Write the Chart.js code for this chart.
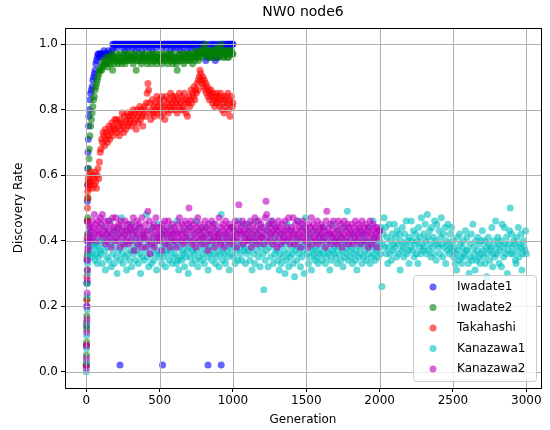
<!DOCTYPE html>
<html>
<head>
<meta charset="utf-8">
<script src="https://cdn.jsdelivr.net/npm/chart.js@4.4.1/dist/chart.umd.min.js"></script>
<style>
html, body { margin: 0; padding: 0; background: #fff; }
#wrap { width: 550px; height: 430px; }
</style>
</head>
<body>
<div id="wrap"><canvas id="chart" width="550" height="430"></canvas></div>
<script>
// generations sampled: dense during the first rise, then every 5
const earlyGens = [0, 1, 2, 3, 4, 5, 6, 7, 8, 9, 10, 12, 14, 16, 18, 20,
    25, 30, 35, 40, 45, 50, 55, 60, 65, 70, 75, 80, 85, 90, 95];
const genStep = 5;

const xTicks = [0, 500, 1000, 1500, 2000, 2500, 3000];
const yTicks = [0.0, 0.2, 0.4, 0.6, 0.8, 1.0];

const seriesNames = ['Iwadate1', 'Iwadate2', 'Takahashi', 'Kanazawa1', 'Kanazawa2'];
const seriesColors = ['0,0,255', '0,128,0', '255,0,0', '0,191,191', '191,0,191'];

// discovery rate in percent, one row = 100 generations
const iwadate1 = [
    2, 8, 14, 20, 27, 34, 40, 46, 52, 57, 62, 67, 71, 75, 78, 80,
    83, 85, 86, 87, 89, 90, 91, 92, 94, 95, 96, 97, 97, 96, 97,
    97, 97, 96, 97, 98, 97, 97, 96, 97, 97, 98, 97, 97, 96, 97, 98, 100, 99, 100, 100,
    100, 100, 99, 100, 100, 100, 2, 100, 100, 100, 99, 100, 100, 98, 100, 100, 100, 99, 100, 100,
    100, 100, 99, 100, 100, 100, 100, 98, 100, 100, 100, 99, 100, 100, 100, 100, 98, 100, 100, 100,
    100, 99, 100, 100, 100, 100, 99, 100, 100, 100, 98, 100, 100, 100, 100, 99, 100, 100, 100, 100,
    100, 100, 100, 99, 2, 100, 100, 100, 100, 99, 100, 100, 100, 100, 100, 98, 100, 100, 100, 99,
    100, 100, 100, 99, 100, 100, 100, 100, 98, 100, 100, 100, 99, 100, 100, 100, 100, 100, 98, 100,
    100, 100, 99, 100, 100, 100, 100, 99, 100, 100, 100, 98, 100, 100, 100, 97, 99, 100, 100, 100,
    100, 97, 100, 95, 99, 96, 2, 100, 97, 96, 100, 98, 96, 100, 99, 100, 95, 96, 100, 98,
    96, 100, 98, 100, 2, 100, 99, 100, 100, 97, 100, 100, 99, 100, 100, 100, 98, 100, 100, 100,
    100
];

const iwadate2 = [
    2, 5, 9, 13, 17, 22, 27, 31, 36, 42, 47, 53, 58, 62, 65, 68,
    72, 75, 77, 79, 81, 83, 84, 86, 87, 88, 89, 90, 91, 92, 92,
    93, 92, 94, 93, 95, 94, 94, 96, 95, 93, 94, 96, 95, 94, 96, 97, 92, 95, 94, 96,
    96, 95, 97, 94, 95, 96, 97, 95, 94, 96, 95, 97, 96, 94, 95, 97, 96, 95, 97, 96,
    95, 96, 97, 95, 94, 96, 97, 96, 92, 95, 95, 96, 97, 96, 95, 94, 97, 96, 95, 96,
    97, 96, 95, 94, 96, 97, 95, 96, 97, 94, 96, 95, 97, 96, 95, 96, 94, 97, 96, 95,
    97, 95, 96, 94, 96, 97, 95, 96, 97, 95, 96, 94, 97, 96, 95, 97, 96, 95, 94, 96,
    97, 96, 95, 94, 92, 95, 96, 97, 95, 96, 97, 95, 96, 94, 97, 96, 95, 97, 96, 95,
    97, 96, 95, 97, 96, 94, 97, 96, 95, 97, 98, 96, 97, 95, 96, 98, 97, 96, 98, 97,
    99, 97, 100, 98, 98, 97, 97, 96, 96, 98, 98, 97, 97, 96, 96, 98, 97, 99, 98, 97,
    96, 97, 99, 98, 100, 97, 97, 96, 96, 98, 98, 97, 97, 96, 96, 98, 97, 98, 98, 97,
    97
];

const takahashi = [
    2, 8, 15, 22, 29, 35, 41, 46, 50, 53, 55, 57, 59, 56, 60, 58,
    57, 61, 58, 56, 60, 59, 57, 61, 58, 56, 60, 62, 59, 64, 67,
    68, 71, 70, 73, 72, 69, 74, 71, 73, 70, 72, 75, 71, 74, 73, 76, 72, 75, 74, 77,
    74, 77, 73, 76, 75, 72, 77, 74, 76, 79, 75, 73, 78, 76, 74, 77, 79, 75, 78, 76,
    77, 79, 75, 78, 80, 76, 79, 77, 74, 80, 78, 76, 79, 81, 77, 80, 78, 75, 79, 81,
    80, 78, 82, 85, 88, 86, 82, 79, 77, 80, 83, 79, 81, 78, 82, 80, 84, 79, 81, 83,
    80, 82, 78, 84, 81, 79, 83, 77, 81, 84, 80, 82, 79, 83, 81, 85, 80, 82, 84, 81,
    83, 80, 84, 82, 79, 83, 81, 85, 82, 80, 84, 81, 83, 80, 85, 82, 79, 83, 78, 82,
    84, 81, 83, 86, 82, 85, 84, 87, 83, 86, 85, 88, 86, 89, 90, 92, 91, 89, 88, 90,
    87, 89, 86, 88, 85, 87, 84, 86, 83, 85, 86, 84, 82, 85, 83, 81, 84, 82, 85, 83,
    82, 84, 81, 85, 83, 80, 84, 82, 79, 83, 81, 84, 82, 85, 80, 83, 78, 82, 84, 81,
    82
];

const kanazawa1 = [
    0, 3, 7, 11, 15, 19, 23, 27, 30, 33, 35, 38, 36, 41, 44, 39,
    37, 42, 35, 39, 36, 41, 38, 34, 39, 36, 33, 38, 35, 40, 37,
    36, 41, 33, 39, 44, 37, 31, 40, 35, 42, 38, 34, 46, 39, 32, 41, 36, 43, 33, 38,
    40, 35, 30, 42, 37, 44, 34, 39, 47, 36, 33, 41, 38, 35, 43, 31, 39, 36, 42, 34,
    45, 37, 32, 40, 36, 43, 38, 34, 41, 37, 39, 33, 44, 36, 30, 40, 35, 42, 38, 34,
    41, 37, 48, 35, 39, 32, 43, 36, 40, 33, 38, 44, 34, 39, 36, 41, 31, 37, 45, 35,
    40, 36, 42, 33, 38, 35, 43, 39, 32, 37, 41, 36, 39, 34, 44, 37, 40, 33, 38, 35,
    42, 36, 39, 33, 46, 34, 31, 38, 35, 40, 34, 37, 43, 36, 32, 39, 35, 41, 37, 30,
    38, 44, 35, 40, 33, 37, 42, 36, 39, 34, 46, 37, 32, 40, 35, 43, 38, 34, 41, 36,
    39, 33, 44, 37, 40, 35, 31, 38, 42, 36, 40, 34, 38, 45, 36, 41, 33, 39, 35, 43,
    37, 32, 40, 36, 48, 38, 34, 41, 36, 39, 33, 42, 37, 35, 40, 31, 38, 44, 36, 39,
    41, 35, 38, 33, 43, 37, 40, 34, 46, 38, 36, 42, 34, 39, 45, 37, 38, 33, 41, 36,
    45, 37, 40, 34, 43, 38, 31, 41, 36, 39, 33, 40, 46, 37, 42, 35, 39, 32, 44, 38,
    41, 36, 25, 39, 34, 43, 37, 40, 32, 45, 38, 42, 35, 46, 39, 33, 41, 36, 44, 37,
    40, 34, 38, 31, 36, 42, 33, 39, 35, 41, 37, 30, 39, 34, 45, 36, 32, 40, 35, 38,
    43, 36, 33, 39, 29, 37, 41, 34, 38, 46, 36, 40, 32, 38, 35, 44, 37, 30, 39, 47,
    42, 36, 39, 33, 41, 35, 38, 31, 40, 37, 36, 43, 34, 38, 35, 40, 33, 37, 42, 36,
    39, 34, 41, 36, 44, 38, 33, 40, 35, 37, 42, 36, 31, 39, 34, 41, 37, 45, 36, 38,
    35, 40, 33, 38, 43, 36, 41, 34, 39, 37, 32, 40, 35, 44, 38, 36, 49, 34, 39, 37,
    41, 35, 38, 33, 42, 36, 40, 34, 37, 31, 39, 35, 43, 38, 36, 41, 33, 39, 35, 40,
    37, 42, 34, 39, 36, 44, 38, 33, 40, 35, 38, 46, 36, 41, 34, 39, 37, 43, 35, 38,
    40, 36, 44, 26, 39, 42, 47, 38, 44, 36, 41, 33, 38, 45, 36, 40, 34, 42, 37, 39,
    45, 38, 41, 35, 43, 39, 36, 42, 31, 40, 37, 44, 38, 35, 42, 39, 46, 36, 40, 37,
    33, 41, 38, 46, 40, 37, 43, 35, 39, 42, 36, 40, 33, 44, 38, 41, 36, 47, 39, 37,
    42, 38, 45, 40, 36, 48, 41, 37, 43, 39, 35, 44, 38, 41, 36, 46, 40, 34, 45, 39,
    38, 43, 36, 41, 47, 39, 35, 42, 38, 44, 33, 40, 37, 45, 39, 36, 42, 38, 44, 37,
    40, 35, 38, 33, 36, 31, 41, 37, 34, 42, 39, 35, 33, 38, 40, 36, 35, 43, 37, 41,
    37, 33, 30, 39, 35, 42, 34, 45, 38, 36, 31, 40, 34, 37, 41, 35, 39, 33, 36, 40,
    43, 37, 35, 40, 33, 38, 29, 36, 41, 39, 34, 37, 38, 44, 32, 36, 40, 35, 46, 38,
    36, 41, 39, 33, 37, 40, 32, 45, 38, 35, 44, 39, 36, 41, 30, 37, 39, 43, 50, 36,
    42, 38, 36, 40, 39, 34, 33, 41, 37, 44, 35, 39, 38, 42, 31, 36, 40, 38, 37, 43,
    36
];

const kanazawa2 = [
    1, 4, 8, 12, 16, 20, 24, 28, 31, 34, 37, 40, 38, 42, 45, 41,
    44, 40, 43, 46, 41, 44, 48, 42, 45, 40, 43, 46, 42, 44, 47,
    45, 42, 48, 41, 43, 46, 39, 44, 42, 40, 46, 43, 41, 45, 38, 42, 47, 44, 40, 43,
    47, 41, 44, 40, 45, 42, 38, 46, 43, 41, 44, 39, 42, 46, 40, 43, 45, 41, 39, 44,
    43, 40, 45, 42, 47, 37, 44, 41, 43, 46, 39, 42, 45, 40, 44, 38, 47, 42, 41, 43,
    41, 45, 38, 43, 49, 40, 46, 36, 42, 39, 44, 41, 45, 38, 43, 47, 40, 42, 44, 41,
    40, 44, 42, 37, 45, 41, 43, 46, 39, 42, 44, 40, 46, 42, 38, 43, 41, 45, 42, 40,
    44, 40, 43, 38, 42, 45, 41, 47, 43, 40, 42, 45, 39, 44, 41, 46, 42, 40, 43, 45,
    50, 44, 41, 46, 39, 43, 40, 45, 42, 38, 44, 41, 47, 43, 40, 45, 42, 39, 44, 41,
    43, 41, 46, 39, 44, 42, 37, 45, 40, 43, 42, 46, 40, 44, 41, 38, 45, 43, 40, 42,
    41, 47, 42, 39, 44, 40, 45, 43, 38, 42, 46, 41, 44, 40, 43, 45, 39, 42, 44, 41,
    44, 40, 43, 46, 41, 38, 42, 45, 51, 43, 40, 44, 42, 46, 39, 43, 41, 45, 42, 40,
    43, 40, 44, 41, 46, 38, 42, 45, 40, 43, 47, 41, 44, 39, 42, 46, 40, 43, 45, 41,
    41, 44, 39, 42, 47, 52, 48, 43, 40, 45, 41, 44, 42, 46, 39, 43, 45, 40, 42, 44,
    38, 43, 46, 41, 44, 39, 42, 45, 40, 43, 41, 46, 43, 40, 44, 42, 47, 41, 39, 43,
    44, 41, 47, 42, 39, 45, 43, 40, 46, 42, 41, 44, 38, 43, 45, 41, 46, 42, 40, 44,
    40, 43, 38, 45, 42, 44, 41, 47, 39, 43, 45, 41, 44, 40, 42, 46, 39, 43, 41, 44,
    45, 42, 40, 44, 41, 43, 38, 46, 49, 42, 40, 44, 42, 45, 39, 43, 41, 46, 42, 40,
    41, 44, 39, 43, 46, 40, 42, 45, 41, 38, 44, 42, 46, 40, 43, 41, 45, 39, 44, 42,
    43, 40, 45, 42, 39, 44, 41, 46, 43, 40, 42, 45, 41, 44, 39, 43, 46, 42, 40, 44,
    42, 45, 40, 43, 38, 44, 41, 46, 42, 39, 43, 45, 40, 44, 41, 42, 38, 44, 41, 43,
    43
];

const seriesValues = [iwadate1, iwadate2, takahashi, kanazawa1, kanazawa2];

function toPoints(values) {
    return values.map(function(v, i) {
        var g = i < earlyGens.length ? earlyGens[i] : 100 + (i - earlyGens.length) * genStep;
        return {x: g, y: v / 100};
    });
}

const datasets = seriesNames.map(function(name, i) {
    return {
        label: name,
        data: toPoints(seriesValues[i]),
        backgroundColor: 'rgba(' + seriesColors[i] + ',0.6)',
        borderWidth: 0,
        pointRadius: 3.5,
        pointHoverRadius: 3.5,
        // matplotlib draws later series on top; in Chart.js lower order is drawn last
        order: seriesNames.length - i
    };
});

// grid lines above the points, then the axes frame and the legend box
const overlayPlugin = {
    id: 'overlay',
    afterDatasetsDraw: function(chart) {
        var ctx = chart.ctx;
        var a = chart.chartArea;
        var xs = chart.scales.x, ys = chart.scales.y;
        ctx.save();
        ctx.strokeStyle = '#b0b0b0';
        ctx.lineWidth = 1;
        ctx.beginPath();
        xTicks.forEach(function(t) {
            var px = Math.round(xs.getPixelForValue(t)) + 0.5;
            ctx.moveTo(px, a.top);
            ctx.lineTo(px, a.bottom);
        });
        yTicks.forEach(function(t) {
            var py = Math.round(ys.getPixelForValue(t)) + 0.5;
            ctx.moveTo(a.left, py);
            ctx.lineTo(a.right, py);
        });
        ctx.stroke();

        ctx.strokeStyle = '#000';
        ctx.strokeRect(Math.round(a.left) + 0.5, Math.round(a.top) + 0.5,
            Math.round(a.right - a.left), Math.round(a.bottom - a.top));

        // legend, lower right
        var w = 123, h = 106;
        var lx = a.right - w - 5, ly = a.bottom - h - 7;
        ctx.fillStyle = 'rgba(255,255,255,0.8)';
        ctx.strokeStyle = '#cccccc';
        ctx.beginPath();
        ctx.roundRect(lx + 0.5, ly + 0.5, w, h, 3);
        ctx.fill();
        ctx.stroke();
        ctx.font = '12px "DejaVu Sans"';
        ctx.textBaseline = 'middle';
        seriesNames.forEach(function(name, i) {
            var cy = ly + 12 + i * 20.5;
            ctx.fillStyle = 'rgba(' + seriesColors[i] + ',0.6)';
            ctx.beginPath();
            ctx.arc(lx + 20, cy, 3.5, 0, Math.PI * 2);
            ctx.fill();
            ctx.fillStyle = '#000';
            ctx.fillText(name, lx + 44, cy);
        });
        ctx.restore();
    }
};

const config = {
    type: 'scatter',
    data: { datasets: datasets },
    options: {
        responsive: false,
        animation: false,
        events: [],
        layout: { padding: { left: 0, right: 9, top: 0, bottom: 0 } },
        plugins: {
            legend: { display: false },
            tooltip: { enabled: false },
            title: {
                display: true,
                text: 'NW0 node6',
                color: '#000',
                fullSize: false,
                font: { family: 'DejaVu Sans', size: 14, weight: 'normal' },
                padding: { top: 4, bottom: 7 }
            }
        },
        scales: {
            x: {
                type: 'linear',
                min: -145,
                max: 3100,
                afterBuildTicks: function(s) { s.ticks = xTicks.map(function(v) { return {value: v}; }); },
                afterFit: function(s) { s.height = 42; },
                ticks: {
                    color: '#000',
                    font: { family: 'DejaVu Sans', size: 12 },
                    padding: 2,
                    maxRotation: 0,
                    callback: function(v) { return String(v); }
                },
                grid: { drawOnChartArea: false, drawTicks: true, tickLength: 4, tickColor: '#000' },
                border: { display: false },
                title: {
                    display: true,
                    text: 'Generation',
                    color: '#000',
                    font: { family: 'DejaVu Sans', size: 12 },
                    padding: { top: 0, bottom: 3 }
                }
            },
            y: {
                type: 'linear',
                min: -0.05,
                max: 1.05,
                afterBuildTicks: function(s) { s.ticks = yTicks.map(function(v) { return {value: v}; }); },
                afterFit: function(s) { s.width = 65; },
                ticks: {
                    color: '#000',
                    font: { family: 'DejaVu Sans', size: 12 },
                    padding: 3,
                    callback: function(v) { return Number(v).toFixed(1); }
                },
                grid: { drawOnChartArea: false, drawTicks: true, tickLength: 4, tickColor: '#000' },
                border: { display: false },
                title: {
                    display: true,
                    text: 'Discovery Rate',
                    color: '#000',
                    font: { family: 'DejaVu Sans', size: 12 },
                    padding: { top: 12, bottom: 0 }
                }
            }
        }
    },
    plugins: [overlayPlugin]
};

const scatterChart = new Chart(document.getElementById('chart'), config);
</script>
</body>
</html>
